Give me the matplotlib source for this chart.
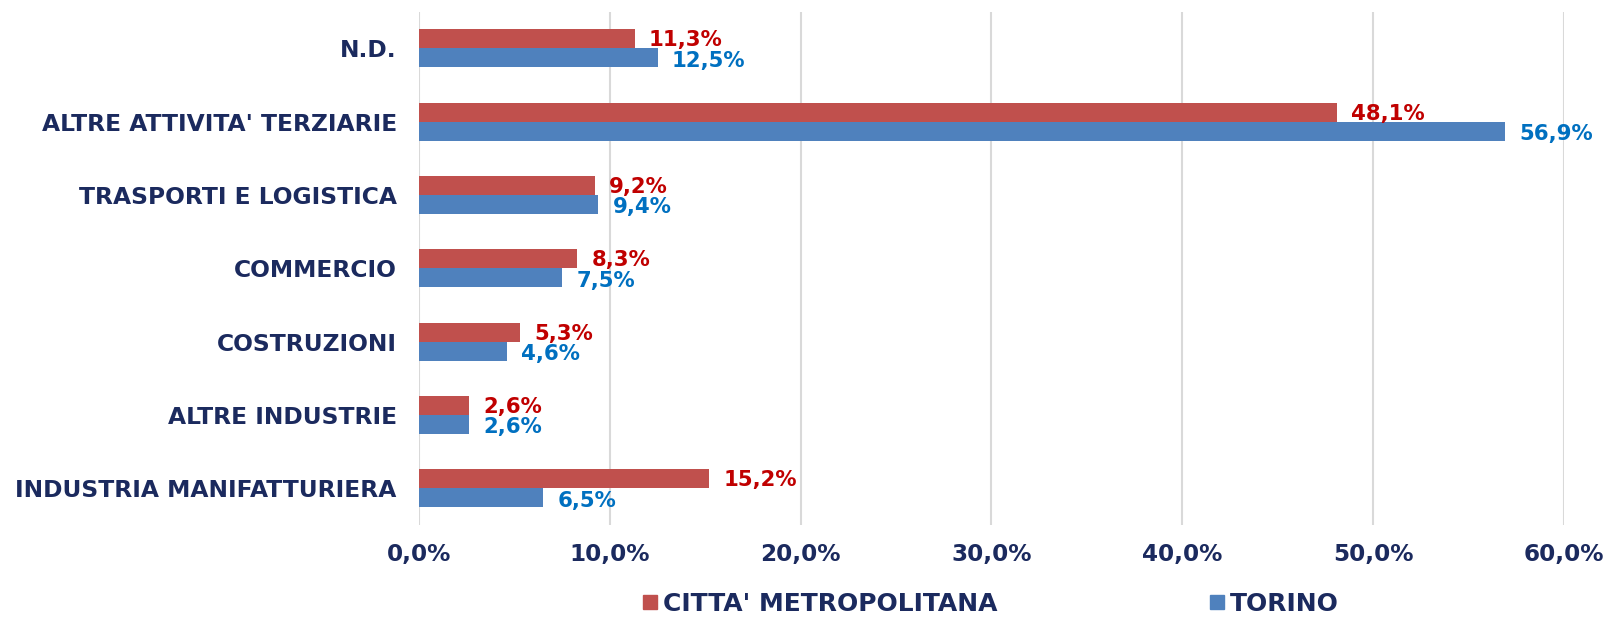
import matplotlib.pyplot as plt
import numpy as np
from matplotlib.ticker import FuncFormatter
from matplotlib.lines import Line2D

categories = ["INDUSTRIA MANIFATTURIERA", "ALTRE INDUSTRIE", "COSTRUZIONI",
              "COMMERCIO", "TRASPORTI E LOGISTICA", "ALTRE ATTIVITA' TERZIARIE", "N.D."]
citta = [15.2, 2.6, 5.3, 8.3, 9.2, 48.1, 11.3]
torino = [6.5, 2.6, 4.6, 7.5, 9.4, 56.9, 12.5]
series_names = ["CITTA' METROPOLITANA", "TORINO"]

navy = "#1B2A5E"
red_bar, blue_bar = "#C0504D", "#4F81BD"
red_txt, blue_txt = "#C00000", "#0070C0"

plt.rcParams['font.family'] = ['DejaVu Sans']
plt.rcParams['font.weight'] = 'bold'

fig = plt.figure(figsize=(16.08, 6.19), dpi=100)
ax = fig.add_axes([0.2606, 0.152, 0.712, 0.829])

y = np.arange(len(categories))
h = 0.26
ax.barh(y + h / 2, citta, height=h, color=red_bar)
ax.barh(y - h / 2, torino, height=h, color=blue_bar)

# etichette dei valori
for yi, v in zip(y, citta):
    ax.text(v + 0.75, yi + h / 2 - 0.02, f"{v:.1f}%".replace('.', ','), color=red_txt,
            fontsize=15.3, fontweight='bold', va='center', ha='left')
for yi, v in zip(y, torino):
    ax.text(v + 0.75, yi - h / 2 - 0.04, f"{v:.1f}%".replace('.', ','), color=blue_txt,
            fontsize=15.3, fontweight='bold', va='center', ha='left')

ax.set_xlim(0, 60)
ax.set_ylim(-0.5, 6.5)
ax.set_xticks(np.arange(0, 61, 10))
ax.xaxis.set_major_formatter(FuncFormatter(lambda v, p: f"{v:.1f}%".replace('.', ',')))
ax.set_yticks(y)
ax.set_yticklabels(categories)
ax.tick_params(axis='both', length=0, labelcolor=navy)
ax.tick_params(axis='x', pad=13, labelsize=16.7)
ax.tick_params(axis='y', pad=16, labelsize=16.8)
for lab in ax.get_xticklabels() + ax.get_yticklabels():
    lab.set_fontweight('bold')
ax.grid(axis='x', color='#D9D9D9', linewidth=1.5)
ax.set_axisbelow(True)
for s in ax.spines.values():
    s.set_visible(False)

handles = [Line2D([], [], marker='s', linestyle='none', markersize=9.5, color=red_bar),
           Line2D([], [], marker='s', linestyle='none', markersize=9.5, color=blue_bar)]
leg = fig.legend(handles, series_names, loc='center', bbox_to_anchor=(0.616, 0.024),
                 ncol=2, frameon=False, columnspacing=8.5, handletextpad=0.2,
                 handlelength=0.6, borderpad=0, prop={'size': 18, 'weight': 'bold'})
for t in leg.get_texts():
    t.set_color(navy)

fig.savefig("out.png", dpi=100)
